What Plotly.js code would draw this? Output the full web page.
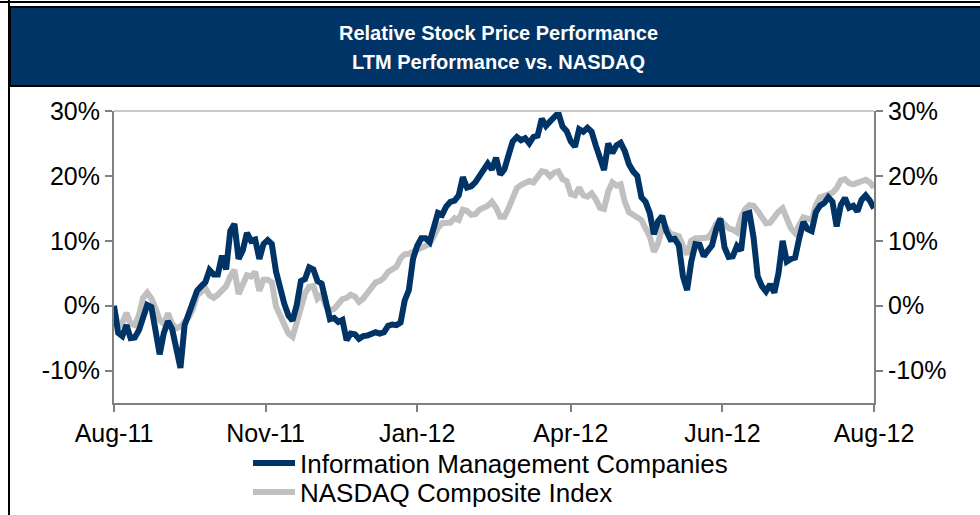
<!DOCTYPE html>
<html>
<head>
<meta charset="utf-8">
<script src="https://cdn.plot.ly/plotly-3.0.1.min.js"></script>
<style>
  html, body { margin: 0; padding: 0; background: #fff; }
  #chart { width: 980px; height: 515px; }
</style>
</head>
<body>
<div id="chart"></div>
<script>
// one reading every 2 calendar days, starting Aug 31 2011
const startDate = "2011-08-31";
const stepDays = 2;

const infoMgmt = [
  0, -4.2, -4.7, -3.0, -5.0, -4.9, -3.8, -1.5, 0.1, -0.2,
  -3.9, -7.5, -4.2, -2.4, -3.6, -6.5, -9.6, -3.0, -1.0, 0.7,
  2.3, 3.0, 3.6, 5.5, 4.8, 4.8, 7.7, 5.6, 11.5, 12.6,
  7.2, 8.5, 11.2, 10.0, 10.2, 7.2, 9.5, 10.1, 9.5, 5.3,
  2.5, 0.3, -1.5, -2.3, 0.1, 3.8, 4.1, 5.9, 5.6, 3.8,
  3.4, 0.8, -2.1, -1.9, -2.5, -2.2, -5.3, -4.3, -4.4, -5.1,
  -4.7, -4.6, -4.3, -4.1, -4.3, -4.1, -3.1, -2.9, -3.0, -2.6,
  0.8, 2.4, 7.2, 9.2, 10.4, 10.4, 9.8, 12.5, 14.3, 14.0,
  15.3, 16.0, 16.2, 17.0, 19.8, 18.2, 18.4, 19.0, 20.1, 21.1,
  21.9, 21.0, 22.8, 20.2, 21.0, 23.2, 25.3, 26.0, 25.5, 25.8,
  25.0, 26.0, 26.2, 28.8, 27.7, 28.4, 29.1, 29.7, 27.6, 26.9,
  25.3, 24.5, 27.2, 26.8, 27.4, 26.8, 24.7, 23.0, 20.9, 25.0,
  23.5, 24.7, 25.1, 23.8, 21.8, 20.7, 20.0, 16.7, 16.0, 14.3,
  11.0, 13.0, 13.8, 11.5, 10.2, 10.3, 9.3, 4.5, 2.4, 6.8,
  9.5, 9.4, 7.6, 8.5, 9.3, 11.8, 13.4, 9.0, 7.5, 7.6,
  9.2, 8.5, 14.1, 14.3, 10.5, 4.5, 3.0, 2.2, 3.3, 2.0,
  5.0, 10.0, 6.8, 7.2, 7.4, 10.4, 12.9, 11.8, 11.5, 14.4,
  15.4, 15.8, 16.7, 16.0, 12.2, 15.5, 16.6, 15.1, 15.4, 14.5,
  16.3, 17.0, 16.2, 15.0
];

const nasdaq = [
  -0.5, -3.2, -2.7, -1.1, -2.8, -3.0, -1.5, 1.2, 2.0, 1.1,
  -0.4, -2.2, -2.8, -1.2, -2.8, -3.5, -3.2, -2.6, -1.8, -0.5,
  1.6, 2.1, 2.7, 1.6, 1.2, 1.7, 2.5, 3.0, 4.5, 5.5,
  1.8, 3.5, 4.7, 4.5, 5.2, 2.3, 4.0, 4.0, 3.6, -0.1,
  -1.6, -2.9, -4.3, -4.8, -2.3, 0.0, 1.9, 2.9, 3.0, 1.1,
  1.7, 0.0, -0.7, -0.5, 0.4, 1.0, 1.2, 1.7, 1.4, 0.6,
  1.1, 2.0, 2.8, 3.6, 3.8, 4.3, 5.2, 5.6, 6.0, 7.3,
  7.9, 8.0, 8.3, 8.6, 9.0, 9.3, 9.5, 10.7, 12.0, 12.7,
  12.8, 12.8, 13.5, 13.2, 14.8, 14.6, 14.0, 14.1, 14.8, 15.0,
  15.4, 16.0, 15.1, 13.7, 13.7, 15.0, 16.6, 18.1, 18.6, 19.0,
  19.2, 19.0, 19.9, 20.7, 20.6, 19.9, 20.5, 20.7, 19.5, 19.2,
  17.2, 17.0, 18.2, 17.0, 16.8, 17.3, 16.4, 15.1, 14.9, 17.6,
  19.0, 18.5, 18.7, 16.0, 14.4, 14.0, 13.7, 13.2, 11.9, 10.7,
  8.3, 9.6, 12.0, 12.0, 11.1, 11.0, 10.7, 9.2, 7.9, 10.0,
  10.4, 10.4, 10.4, 10.5, 11.3, 12.6, 13.2, 12.6, 11.9, 11.7,
  11.3, 13.6, 14.9, 15.5, 15.4, 14.6, 13.6, 12.7, 12.8, 13.7,
  14.5, 15.0, 13.7, 11.9, 11.2, 12.2, 13.6, 13.4, 13.2, 15.5,
  16.7, 16.9, 17.1, 17.4, 18.1, 19.3, 19.5, 18.9, 18.7, 18.9,
  19.3, 19.4, 19.0, 18.2
];

const tickDates = ["2011-08-31", "2011-11-12", "2012-01-24", "2012-04-07", "2012-06-19", "2012-08-31"];
const tickLabels = ["Aug-11", "Nov-11", "Jan-12", "Apr-12", "Jun-12", "Aug-12"];
const yTicks = [-10, 0, 10, 20, 30];

const seriesNames = ["Information Management Companies", "NASDAQ Composite Index"];
const titleLines = ["Relative Stock Price Performance", "LTM Performance vs. NASDAQ"];

// build the date list for the readings
function makeDates(n) {
  const out = [];
  const d0 = new Date(startDate + "T00:00:00Z");
  for (let i = 0; i < n; i++) {
    const d = new Date(d0.getTime() + i * stepDays * 86400000);
    out.push(d.toISOString().slice(0, 10));
  }
  return out;
}
const dates = makeDates(infoMgmt.length);

// pixel -> paper helpers (plot area is 114..874 x 111..403)
const px = x => (x - 114) / 760;
const py = y => (403 - y) / 292;

const NAVY = "#003366";
const GREY = "#C0C0C0";
const AXIS = "#808080";
const FONT = "Liberation Sans, Arial, sans-serif";
const tickFont = {family: FONT, size: 25, color: "#000"};
const legendFont = {family: FONT, size: 26, color: "#000"};

const data = [
  {
    x: dates, y: nasdaq, name: seriesNames[1], legend: "legend2",
    type: "scatter", mode: "lines",
    line: {color: GREY, width: 6}
  },
  {
    x: dates, y: infoMgmt, name: seriesNames[0], legend: "legend",
    type: "scatter", mode: "lines",
    line: {color: NAVY, width: 6}
  },
  // empty trace so the right axis is drawn with its labels
  {x: [dates[0]], y: [null], yaxis: "y2", showlegend: false, hoverinfo: "skip", mode: "lines"}
];

const yAxisBase = {
  range: [-15, 30],
  tickmode: "array",
  tickvals: yTicks,
  ticktext: yTicks.map(v => v + "%"),
  ticks: "outside",
  ticklen: 7,
  tickwidth: 2,
  tickcolor: AXIS,
  showline: true,
  linecolor: AXIS,
  linewidth: 2,
  showgrid: false,
  zeroline: false,
  fixedrange: true,
  tickfont: tickFont
};

const legendBase = {
  xanchor: "left", yanchor: "middle",
  font: legendFont,
  bgcolor: "rgba(0,0,0,0)",
  itemwidth: 42
};

const layout = {
  width: 980,
  height: 515,
  margin: {l: 114, r: 106, t: 111, b: 112, autoexpand: false},
  paper_bgcolor: "#fff",
  plot_bgcolor: "#fff",
  showlegend: true,
  legend: Object.assign({x: px(248), y: py(463)}, legendBase),
  legend2: Object.assign({x: px(248), y: py(492)}, legendBase),
  xaxis: {
    type: "date",
    range: [tickDates[0], tickDates[tickDates.length - 1]],
    tickmode: "array",
    tickvals: tickDates,
    ticktext: tickLabels,
    ticks: "outside",
    ticklen: 7,
    tickwidth: 2,
    tickcolor: AXIS,
    showline: true,
    linecolor: AXIS,
    linewidth: 2,
    showgrid: false,
    zeroline: false,
    tickfont: tickFont
  },
  yaxis: Object.assign({}, yAxisBase, {side: "left"}),
  yaxis2: Object.assign({}, yAxisBase, {side: "right", overlaying: "y"}),
  shapes: [
    // light top border of the plot
    {type: "line", xref: "paper", yref: "paper", x0: 0, x1: 1, y0: 1, y1: 1,
     line: {color: "#C8C8C8", width: 2}},
    // header band
    {type: "rect", xref: "paper", yref: "paper", x0: px(10), x1: px(982), y0: py(86), y1: py(7),
     fillcolor: NAVY, line: {color: "#000", width: 2}, layer: "above"},
    // outer frame top and left
    {type: "line", xref: "paper", yref: "paper", x0: px(0), x1: px(980), y0: py(2), y1: py(2),
     line: {color: "#000", width: 2}},
    {type: "line", xref: "paper", yref: "paper", x0: px(9), x1: px(9), y0: py(0), y1: py(515),
     line: {color: "#000", width: 2}}
  ],
  annotations: titleLines.map((t, i) => ({
    text: t, xref: "paper", yref: "paper", x: px(498), y: py(i === 0 ? 33 : 62),
    xanchor: "center", yanchor: "middle", showarrow: false,
    font: {family: FONT, size: 20, color: "#fff", weight: "bold"}
  }))
};

Plotly.newPlot("chart", data, layout, {displayModeBar: false, staticPlot: true});
</script>
</body>
</html>
